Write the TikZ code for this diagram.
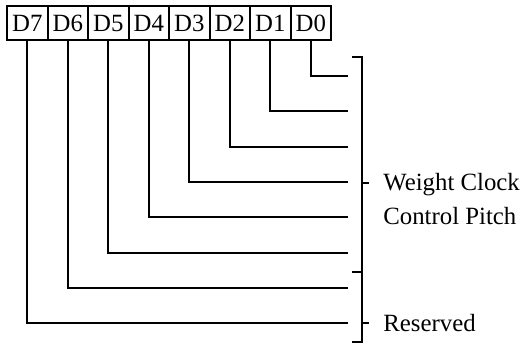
\documentclass[tikz,border=0pt]{standalone}
\usepackage{fontspec}
\setmainfont{Liberation Serif}
\usetikzlibrary{calc}

\tikzset{
  bitbox/.style={draw, line width=1pt, minimum width=20.25pt, minimum height=17.25pt,
    inner sep=0pt, outer sep=0pt, font=\fontsize{12.4}{14}\selectfont},
  wire/.style={line width=1pt},
  tag/.style={anchor=base west, inner sep=0pt, font=\fontsize{12.4}{14}\selectfont}
}

\begin{document}
\begin{tikzpicture}[x=0.5pt, y=-0.5pt]

    % 1. Fix the frame (pixel grid of the reference)
    \useasboundingbox (0,0) rectangle (526,344);

    % 2. The eight bit boxes D7 ... D0
    \foreach \i in {0,...,7} {
        \pgfmathtruncatemacro{\bit}{7-\i}
        \node[bitbox] (d\bit) at ({27.25+40.5*\i},23) {D\bit};
    }

    % 3. One wire per bit, down from its box and across to the bracket
    \foreach \bit in {0,...,7} {
        \coordinate (e\bit) at (348,{76+35.3*\bit});
        \draw[wire] (d\bit.south) |- (e\bit);
    }

    % 4. The bracket on the right
    \coordinate (top) at (362,57);
    \coordinate (mid) at (362,272);
    \coordinate (bot) at (362,342);
    \draw[wire] ($(top)+(-10,0)$) -- (top) -- (bot) -- ($(bot)+(-10,0)$);
    \draw[wire] ($(mid)+(-10,0)$) -- (mid);
    \coordinate (tw) at (362,183);
    \coordinate (tr) at (362,323);
    \draw[wire] (tw) -- ++(7,0);
    \draw[wire] (tr) -- ++(7,0);

    % 5. Labels
    \node[tag] (weight) at (383,190) {Weight Clock};
    \node[tag] (pitch) at (383,224.5) {Control Pitch};
    \node[tag] (reserved) at (383,331.5) {Reserved};

\end{tikzpicture}
\end{document}
